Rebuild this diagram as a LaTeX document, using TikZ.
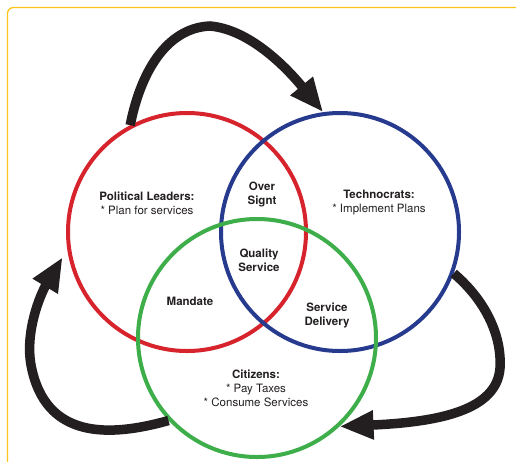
\documentclass[tikz,border=0pt]{standalone}
\usepackage{fontspec}
\setmainfont{TeX Gyre Heros}
\usetikzlibrary{arrows.meta}
\definecolor{frameY}{RGB}{253,196,26}
\definecolor{cRed}{RGB}{214,35,44}
\definecolor{cBlue}{RGB}{38,58,142}
\definecolor{cGreen}{RGB}{61,174,73}
\definecolor{ink}{RGB}{35,31,32}
\tikzset{
  ring/.style={circle, line width=4pt, minimum size=238pt, inner sep=0pt},
  flow/.style={draw=ink, line width=9.5pt, -{Triangle[length=34pt,width=27pt]}},
  lbl/.style={align=center, text=ink, font=\fontsize{11.5}{14}\selectfont, inner sep=0pt},
}
\begin{document}
\begin{tikzpicture}[x=1pt,y=-1pt]
\useasboundingbox (0,0) rectangle (516,461);
\fill[white] (0,0) rectangle (516,461);
\draw[frameY, line width=1.3pt, rounded corners=6pt] (7.5,530) -- (7.5,7.5) -- (560,7.5);
\node[ring, draw=cRed] (red) at (187,232) {};
\node[ring, draw=cBlue] (blue) at (340,232) {};
\node[ring, draw=cGreen] (green) at (257,338) {};
\coordinate (t3) at ([xshift=-6pt]red.192);
\draw[flow] (red.118) .. controls (140,75) and (165,28) .. (210,26)
  .. controls (255,30) and (295,78) .. (blue.98);
\draw[flow] (blue.-20) .. controls (485,300) and (502,335) .. (500,368)
  .. controls (497,410) and (440,422) .. (green.-47);
\draw[flow] (green.-137) .. controls (110,437) and (45,440) .. (31,365)
  .. controls (25,332) and (40,295) .. (t3);
\node[lbl] (pl) at (147,203) {\textbf{Political Leaders:}\\* Plan for services};
\node[lbl] (os) at (262,194) {\textbf{Over}\\\textbf{Signt}};
\node[lbl] (tc) at (379,203) {\textbf{Technocrats:}\\* Implement Plans};
\node[lbl] (qs) at (259,260) {\textbf{Quality}\\\textbf{Service}};
\node[lbl] (md) at (190,301) {\textbf{Mandate}};
\node[lbl] (sd) at (327,315) {\textbf{Service}\\\textbf{Delivery}};
\node[lbl] (cz) at (256,388) {\textbf{Citizens:}\\* Pay Taxes\\* Consume Services};
\end{tikzpicture}
\end{document}
